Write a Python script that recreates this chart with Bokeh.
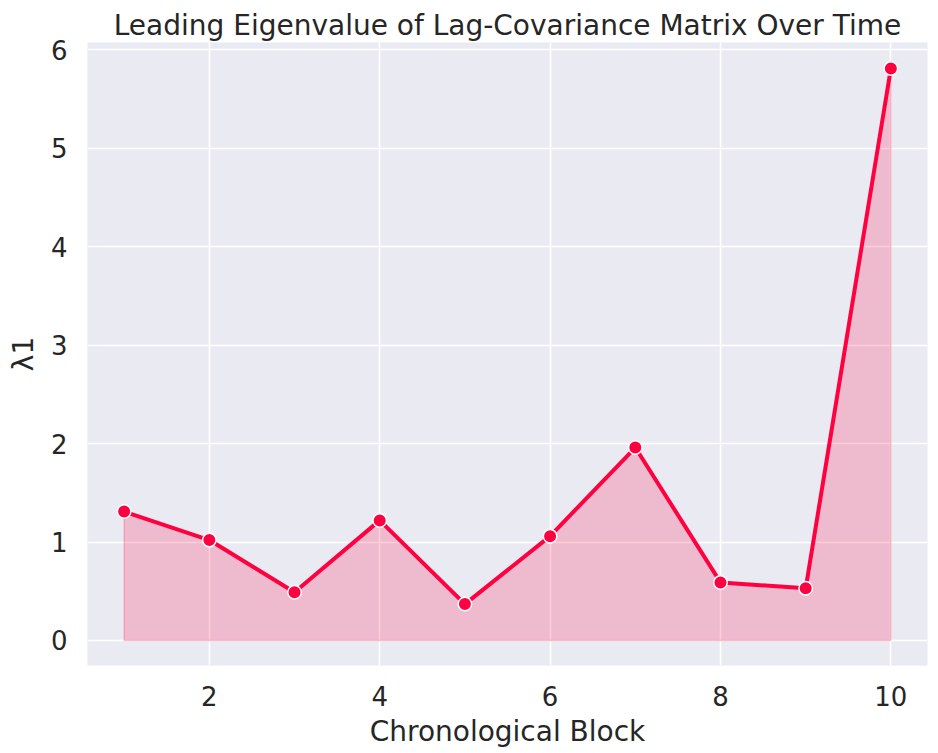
from bokeh.plotting import figure
from bokeh.embed import file_html
from bokeh.resources import INLINE
from bokeh.models import FixedTicker, Range1d

blocks = [1, 2, 3, 4, 5, 6, 7, 8, 9, 10]
lambda1 = [1.31, 1.02, 0.49, 1.22, 0.37, 1.06, 1.96, 0.59, 0.53, 5.81]
x_ticks = [2, 4, 6, 8, 10]
y_ticks = [0, 1, 2, 3, 4, 5, 6]

RED = "#FF0040"
FONT = "DejaVu Sans"
TXT = "#262626"

p = figure(width=938, height=753, output_backend="svg", toolbar_location=None,
           x_range=Range1d(0.57, 10.43), y_range=Range1d(-0.254, 6.074),
           min_border_left=87, min_border_right=11, min_border_top=42, min_border_bottom=88,
           title="Leading Eigenvalue of Lag-Covariance Matrix Over Time")
p.background_fill_color = "#EAEAF2"
p.border_fill_color = "white"
p.outline_line_color = None

p.title.text_font = FONT
p.title.text_font_size = "28px"
p.title.text_font_style = "normal"
p.title.text_color = TXT
p.title.align = "center"
p.title.standoff = 2

# area under the curve
px = blocks + [blocks[-1], blocks[0]]
py = lambda1 + [0, 0]
p.patch(px, py, fill_color=RED, fill_alpha=0.2, line_color=RED, line_alpha=0.2, line_width=1.5)
p.line(blocks, lambda1, line_color=RED, line_width=4)
p.scatter(blocks, lambda1, size=13.5, fill_color=RED, line_color="white", line_width=1.5)

p.xaxis.ticker = FixedTicker(ticks=x_ticks)
p.yaxis.ticker = FixedTicker(ticks=y_ticks)
p.xaxis.axis_label = "Chronological Block"
p.yaxis.axis_label = "λ1"
for ax in (p.xaxis, p.yaxis):
    ax.axis_line_color = None
    ax.major_tick_line_color = None
    ax.minor_tick_line_color = None
    ax.major_tick_out = 0
    ax.major_label_text_font = FONT
    ax.major_label_text_font_size = "26px"
    ax.major_label_text_color = TXT
    ax.axis_label_text_font = FONT
    ax.axis_label_text_font_size = "28px"
    ax.axis_label_text_font_style = "normal"
    ax.axis_label_text_color = TXT
p.xaxis.major_label_standoff = 20
p.yaxis.major_label_standoff = 20
p.xaxis.axis_label_standoff = 6
p.yaxis.axis_label_standoff = 8

p.xgrid.ticker = FixedTicker(ticks=x_ticks)
p.ygrid.ticker = FixedTicker(ticks=y_ticks)
for g in (p.xgrid, p.ygrid):
    g.grid_line_color = "white"
    g.grid_line_width = 1.6

open("out.html", "w").write(file_html(p, INLINE))
